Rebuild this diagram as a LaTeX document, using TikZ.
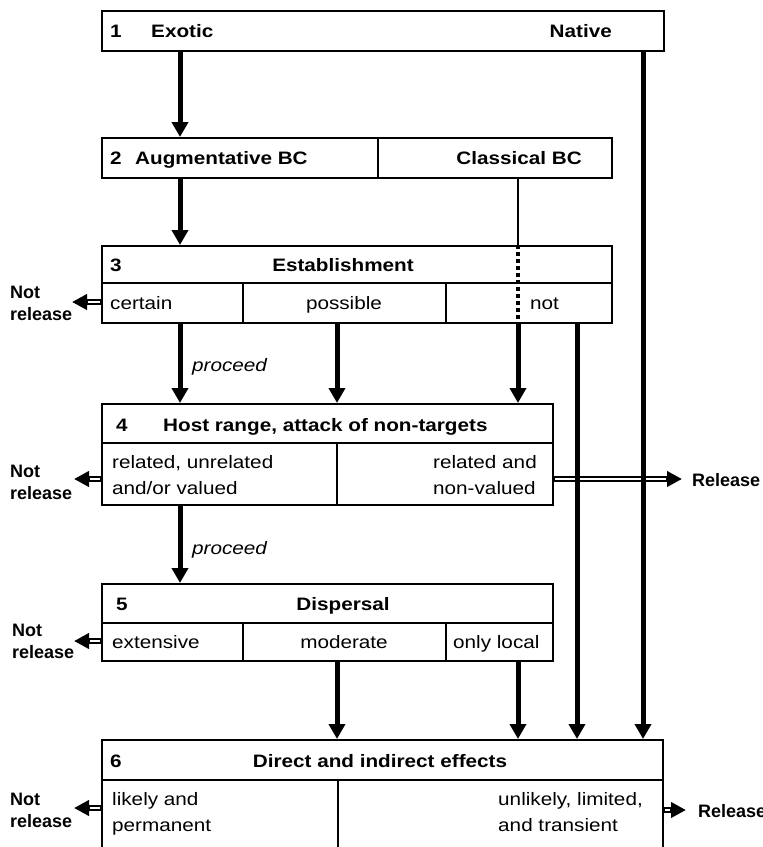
\documentclass[tikz,border=0pt]{standalone}
\usepackage{fontspec}
\setmainfont{Liberation Sans}[FakeStretch=1.15]
\newfontfamily\outfont{Liberation Sans}
\usetikzlibrary{arrows.meta}
\begin{document}
\begin{tikzpicture}[x=1pt,y=-1pt,
  txt/.style={font=\fontsize{18}{22}\selectfont, inner sep=0pt},
  btxt/.style={font=\fontsize{18}{22}\selectfont\bfseries, inner sep=0pt},
  otxt/.style={font=\outfont\fontsize{18}{22}\selectfont\bfseries, inner sep=0pt, anchor=base west},
  itxt/.style={font=\fontsize{18}{22}\selectfont\itshape, inner sep=0pt, anchor=base west},
  box/.style={draw, line width=1.8pt, anchor=north west, inner sep=0pt, minimum width=#1},
  rule/.style={line width=1.4pt},
  flow/.style={line width=5pt, -{Triangle[length=15pt,width=16pt]}},
  thinlink/.style={line width=1.5pt},
  dashlink/.style={line width=4pt, dash pattern=on 4pt off 3pt},
  exitarrow/.style={line width=5.5pt, -{Triangle[length=15pt,width=15pt]},
    postaction={draw=white, line width=1.6pt, arrows=-, shorten >=16pt, shorten <=1.5pt}},
]
\useasboundingbox (0,0) rectangle (763,847);
\clip (0,0) rectangle (763,847);

% column positions of the vertical connectors
\coordinate (colA) at (180,0);
\coordinate (colB) at (337,0);
\coordinate (colC) at (518,0);
\coordinate (colD) at (577,0);
\coordinate (colE) at (643,0);

% ---- boxes ----
\node[box=562pt, minimum height=40pt] (b1) at (101,10) {};
\node[box=510pt, minimum height=40pt] (b2) at (101,137) {};
\node[box=510pt, minimum height=77pt] (b3) at (101,245) {};
\node[box=451pt, minimum height=101pt] (b4) at (101,403) {};
\node[box=451pt, minimum height=77pt] (b5) at (101,583) {};
\node[box=561pt, minimum height=131pt] (b6) at (101,739) {};

% cell rules
\draw[rule] (378,137) -- (378,177);
\draw[rule] (101,283) -- (611,283);
\draw[rule] (243,283) -- (243,322);
\draw[rule] (446,283) -- (446,322);
\draw[rule] (101,443) -- (552,443);
\draw[rule] (337,443) -- (337,504);
\draw[rule] (101,623) -- (552,623);
\draw[rule] (243,623) -- (243,660);
\draw[rule] (446,623) -- (446,660);
\draw[rule] (101,780) -- (662,780);
\draw[rule] (338,780) -- (338,870);

% ---- box texts ----
\node[btxt, anchor=base west] (t1n) at (110,37) {1};
\node[btxt, anchor=base west] (t1a) at (151,37) {Exotic};
\node[btxt, anchor=base east] (t1b) at (612,37) {Native};

\node[btxt, anchor=base west] (t2n) at (110,164) {2};
\node[btxt, anchor=base west] (t2a) at (135,164) {Augmentative BC};
\node[btxt, anchor=base east] (t2b) at (582,164) {Classical BC};

\node[btxt, anchor=base west] (t3n) at (110,271) {3};
\node[btxt, anchor=base] (t3h) at (343,271) {Establishment};
\node[txt, anchor=base west] (t3a) at (110,309) {certain};
\node[txt, anchor=base] (t3b) at (344,309) {possible};
\node[txt, anchor=base west] (t3c) at (530,309) {not};

\node[btxt, anchor=base west] (t4n) at (116,431) {4};
\node[btxt, anchor=base west] (t4h) at (163,431) {Host range, attack of non-targets};
\node[txt, anchor=base west] (t4a1) at (112,468) {related, unrelated};
\node[txt, anchor=base west] (t4a2) at (112,494) {and/or valued};
\node[txt, anchor=base east] (t4b1) at (537,468) {related and};
\node[txt, anchor=base west, yshift=-26pt] (t4b2) at (t4b1.base west) {non-valued};

\node[btxt, anchor=base west] (t5n) at (116,610) {5};
\node[btxt, anchor=base] (t5h) at (343,610) {Dispersal};
\node[txt, anchor=base west] (t5a) at (112,648) {extensive};
\node[txt, anchor=base] (t5b) at (344,648) {moderate};
\node[txt, anchor=base west] (t5c) at (453,648) {only local};

\node[btxt, anchor=base west] (t6n) at (110,767) {6};
\node[btxt, anchor=base] (t6h) at (380,767) {Direct and indirect effects};
\node[txt, anchor=base west] (t6a1) at (112,805) {likely and};
\node[txt, anchor=base west] (t6a2) at (112,831) {permanent};
\node[txt, anchor=base east] (t6b1) at (643,805) {unlikely, limited,};
\node[txt, anchor=base west, yshift=-26pt] (t6b2) at (t6b1.base west) {and transient};

\node[itxt] (p1) at (192,371) {proceed};
\node[itxt] (p2) at (192,554) {proceed};

% ---- outcome labels ----
\node[otxt] (nr3a) at (10,298) {Not};
\node[otxt] (nr3b) at (10,320) {release};
\node[otxt] (nr4a) at (10,477) {Not};
\node[otxt] (nr4b) at (10,499) {release};
\node[otxt] (nr5a) at (12,636) {Not};
\node[otxt] (nr5b) at (12,658) {release};
\node[otxt] (nr6a) at (10,805) {Not};
\node[otxt] (nr6b) at (10,827) {release};
\node[otxt] (r4) at (692,486) {Release};
\node[otxt] (r6) at (698,817) {Release};

\coordinate (e3) at (72,302);
\coordinate (e4) at (74,479);
\coordinate (e5) at (74,641);
\coordinate (e6) at (74,808);
\coordinate (f4) at (682,479);
\coordinate (f6) at (686,810);

% ---- exits ----
\draw[exitarrow] (b3.west |- e3) -- (e3);
\draw[exitarrow] (b4.west |- e4) -- (e4);
\draw[exitarrow] (b5.west |- e5) -- (e5);
\draw[exitarrow] (b6.west |- e6) -- (e6);
\draw[exitarrow] (b4.east |- f4) -- (f4);
\draw[exitarrow] (b6.east |- f6) -- (f6);

% ---- flow connectors ----
\draw[flow] (b1.south -| colA) -- (b2.north -| colA);
\draw[flow] (b2.south -| colA) -- (b3.north -| colA);
\draw[thinlink] (b2.south -| colC) -- (b3.north -| colC);
\draw[dashlink] (b3.north -| colC) -- (b3.south -| colC);
\draw[flow] (b3.south -| colA) -- (b4.north -| colA);
\draw[flow] (b3.south -| colB) -- (b4.north -| colB);
\draw[flow] (b3.south -| colC) -- (b4.north -| colC);
\draw[flow] (b3.south -| colD) -- (b6.north -| colD);
\draw[flow] (b1.south -| colE) -- (b6.north -| colE);
\draw[flow] (b4.south -| colA) -- (b5.north -| colA);
\draw[flow] (b5.south -| colB) -- (b6.north -| colB);
\draw[flow] (b5.south -| colC) -- (b6.north -| colC);
\end{tikzpicture}
\end{document}
